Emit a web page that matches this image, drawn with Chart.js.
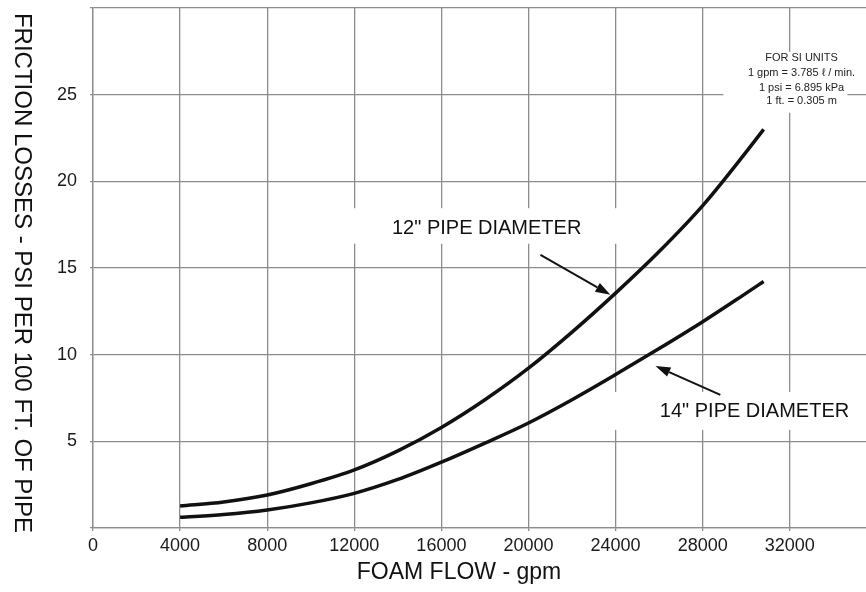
<!DOCTYPE html>
<html>
<head>
<meta charset="utf-8">
<script src="https://cdn.jsdelivr.net/npm/chart.js@4.4.1/dist/chart.umd.min.js"></script>
<style>
  html, body { margin: 0; padding: 0; background: #fff; }
  #wrap { width: 866px; height: 592px; }
</style>
</head>
<body>
<div id="wrap"><canvas id="frictionChart" width="866" height="592"></canvas></div>
<script>
// Foam flow (gpm) and friction loss (psi per 100 ft)
const flow = [4000, 6000, 8000, 10000, 12000, 14000, 16000, 18000, 20000, 22000, 24000, 26000, 28000, 30000, 30800];
const loss12 = [1.27, 1.5, 1.9, 2.55, 3.35, 4.45, 5.8, 7.4, 9.22, 11.3, 13.55, 15.95, 18.6, 21.7, 23.0];
const loss14 = [0.62, 0.78, 1.04, 1.45, 2.0, 2.8, 3.8, 4.9, 6.06, 7.4, 8.85, 10.35, 11.9, 13.55, 14.22];

const xTicks = [0, 4000, 8000, 12000, 16000, 20000, 24000, 28000, 32000];
const yTicks = [0, 5, 10, 15, 20, 25, 30];

const siLines = ['FOR SI UNITS', '1 gpm = 3.785 \u2113 / min.', '1 psi = 6.895 kPa', '1 ft. = 0.305 m'];

const FONT = "'Liberation Sans', Arial, Helvetica, sans-serif";
const GRID = '#8c8c8c';
const INK = '#111';

const toPoints = ys => flow.map((x, i) => ({ x: x, y: ys[i] }));

// labels, arrows and white boxes, placed in data units
const notes = {
  box12: { x0: 11800, x1: 24300, y0: 16.4, y1: 18.45 },
  label12: { x: 18080, y: 17.26, text: '12" PIPE DIAMETER' },
  arrow12: { x0: 20550, y0: 15.76, x1: 23760, y1: 13.45 },
  box14: { x0: 23670, x1: 35500, y0: 5.66, y1: 7.85 },
  label14: { x: 30380, y: 6.7, text: '14" PIPE DIAMETER' },
  arrow14: { x0: 28810, y0: 7.68, x1: 25830, y1: 9.35 },
  boxSI: { x0: 28950, x1: 34650, y0: 23.96, y1: 27.48 },
  si: { x: 32540, y: [27.14, 26.27, 25.4, 24.65] }
};

function arrow(ctx, x0, y0, x1, y1) {
  const a = Math.atan2(y1 - y0, x1 - x0);
  const len = 15, hw = 5;
  ctx.beginPath();
  ctx.moveTo(x0, y0);
  ctx.lineTo(x1 - len * Math.cos(a), y1 - len * Math.sin(a));
  ctx.lineWidth = 2;
  ctx.strokeStyle = INK;
  ctx.stroke();
  ctx.beginPath();
  ctx.moveTo(x1, y1);
  ctx.lineTo(x1 - len * Math.cos(a) + hw * Math.sin(a), y1 - len * Math.sin(a) - hw * Math.cos(a));
  ctx.lineTo(x1 - len * Math.cos(a) - hw * Math.sin(a), y1 - len * Math.sin(a) + hw * Math.cos(a));
  ctx.closePath();
  ctx.fillStyle = INK;
  ctx.fill();
}

const annotations = {
  id: 'annotations',
  beforeDatasetsDraw(chart) {
    const { ctx, scales: { x, y } } = chart;
    ctx.save();
    ctx.fillStyle = '#fff';
    [notes.box12, notes.box14, notes.boxSI].forEach(b => {
      const px0 = x.getPixelForValue(b.x0), px1 = x.getPixelForValue(b.x1);
      const py0 = y.getPixelForValue(b.y1), py1 = y.getPixelForValue(b.y0);
      ctx.fillRect(px0, py0, px1 - px0, py1 - py0);
    });
    ctx.restore();
  },
  afterDraw(chart) {
    const { ctx, scales: { x, y } } = chart;
    ctx.save();
    ctx.fillStyle = INK;
    ctx.textAlign = 'center';
    ctx.textBaseline = 'middle';

    ctx.font = '20px ' + FONT;
    [notes.label12, notes.label14].forEach(l => {
      ctx.fillText(l.text, x.getPixelForValue(l.x), y.getPixelForValue(l.y));
    });
    [notes.arrow12, notes.arrow14].forEach(a => {
      arrow(ctx, x.getPixelForValue(a.x0), y.getPixelForValue(a.y0), x.getPixelForValue(a.x1), y.getPixelForValue(a.y1));
    });

    ctx.fillStyle = '#222';
    ctx.font = '11px ' + FONT;
    siLines.forEach((t, i) => {
      ctx.fillText(t, x.getPixelForValue(notes.si.x), y.getPixelForValue(notes.si.y[i]));
    });

    // axis titles
    ctx.fillStyle = INK;
    ctx.font = '23px ' + FONT;
    ctx.fillText('FOAM FLOW - gpm', 459, 573);

    ctx.translate(22, 273);
    ctx.rotate(Math.PI / 2);
    ctx.font = '24px ' + FONT;
    ctx.fillText('FRICTION LOSSES - PSI PER 100 FT. OF PIPE', 0, 0);
    ctx.restore();
  }
};

const ctx = document.getElementById('frictionChart').getContext('2d');
new Chart(ctx, {
  type: 'line',
  data: {
    datasets: [{
      label: '12" pipe',
      data: toPoints(loss12),
      borderColor: INK,
      borderWidth: 3.5,
      pointRadius: 0,
      cubicInterpolationMode: 'monotone',
      fill: false
    }, {
      label: '14" pipe',
      data: toPoints(loss14),
      borderColor: INK,
      borderWidth: 3.5,
      pointRadius: 0,
      cubicInterpolationMode: 'monotone',
      fill: false
    }]
  },
  options: {
    responsive: false,
    animation: false,
    layout: { padding: { top: 8, right: 0, left: 0, bottom: 0 } },
    plugins: {
      legend: { display: false },
      tooltip: { enabled: false }
    },
    scales: {
      x: {
        type: 'linear',
        min: 0,
        max: 35500,
        afterBuildTicks: s => { s.ticks = xTicks.map(v => ({ value: v })); },
        afterFit: s => { s.height = 64; s.paddingLeft = 0; s.paddingRight = 0; },
        grid: { color: GRID, lineWidth: 1.3, tickLength: 3 },
        border: { color: GRID, width: 1.3 },
        ticks: {
          color: '#1a1a1a',
          font: { family: FONT, size: 18 },
          padding: 4,
          maxRotation: 0,
          autoSkip: false,
          callback: v => String(v)
        }
      },
      y: {
        min: 0,
        max: 30,
        afterBuildTicks: s => { s.ticks = yTicks.map(v => ({ value: v })); },
        afterFit: s => { s.width = 93; s.paddingTop = 0; s.paddingBottom = 0; },
        grid: { color: GRID, lineWidth: 1.3, tickLength: 3 },
        border: { color: GRID, width: 1.3 },
        ticks: {
          color: '#1a1a1a',
          font: { family: FONT, size: 18 },
          padding: 13,
          callback: v => (v === 0 || v === 30) ? '' : String(v)
        }
      }
    }
  },
  plugins: [annotations]
});
</script>
</body>
</html>
